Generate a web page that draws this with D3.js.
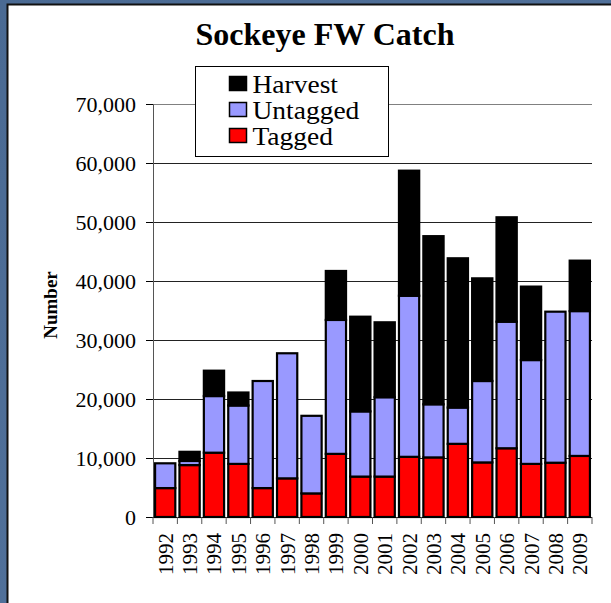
<!DOCTYPE html>
<html>
<head>
<meta charset="utf-8">
<script src="https://cdn.jsdelivr.net/npm/d3@7"></script>
<style>
  html, body { margin: 0; padding: 0; background: #4f7099; }
  svg { display: block; }
  text { font-family: "Liberation Serif", "Times New Roman", serif; fill: #000; }
</style>
</head>
<body>
<script>
var width = 611,
    height = 603;

// data
var years = ["1992", "1993", "1994", "1995", "1996", "1997", "1998", "1999", "2000",
             "2001", "2002", "2003", "2004", "2005", "2006", "2007", "2008", "2009"];
var tagged   = [4900, 8800, 10900, 9000, 4900, 6550, 4000, 10700, 6850,
                6850, 10200, 10100, 12400, 9250, 11650, 9000, 9200, 10350];
var untagged = [4200, 700, 9600, 9900, 18150, 21200, 13150, 22700, 11050,
                13450, 27300, 9000, 6150, 13800, 21450, 17600, 25600, 24550];
var harvest  = [0, 1550, 4300, 2200, 0, 0, 0, 8300, 16050,
                12700, 21200, 28500, 25300, 17400, 17700, 12450, 0, 8550];
var yTicks = [0, 10000, 20000, 30000, 40000, 50000, 60000, 70000];

var seriesNames = ["Tagged", "Untagged", "Harvest"];
var colors = { Tagged: "#ff0000", Untagged: "#9999ff", Harvest: "#000000" };

var margin = { left: 153, right: 19, top: 104, bottom: 86 };

var svg = d3.select("body").append("svg")
    .attr("width", width)
    .attr("height", height);

// background and white panel
var grad = svg.append("defs").append("linearGradient")
    .attr("id", "bg").attr("x1", 0).attr("y1", 0).attr("x2", 1).attr("y2", 1);
grad.append("stop").attr("offset", "0%").attr("stop-color", "#4a6a93");
grad.append("stop").attr("offset", "100%").attr("stop-color", "#5676a0");
svg.append("rect").attr("width", width).attr("height", height).attr("fill", "url(#bg)");
svg.append("rect")
    .attr("x", 7.5).attr("y", 4.5)
    .attr("width", width).attr("height", height)
    .attr("fill", "#fff")
    .attr("stroke", "#111").attr("stroke-width", 2);

var rows = years.map(function (y, i) {
    return { year: y, Tagged: tagged[i], Untagged: untagged[i], Harvest: harvest[i] };
});
var stacked = d3.stack().keys(seriesNames)(rows);

var x = d3.scaleBand()
    .domain(years)
    .range([margin.left, width - margin.right])
    .paddingInner(0.17)
    .paddingOuter(0.085);

var y = d3.scaleLinear()
    .domain([0, 70000])
    .range([height - margin.bottom, margin.top]);

// gridlines
svg.append("g")
    .selectAll("line")
    .data(yTicks.slice(1))
    .enter().append("line")
    .attr("x1", margin.left).attr("x2", width - margin.right)
    .attr("y1", function (d) { return Math.round(y(d)) + 0.5; })
    .attr("y2", function (d) { return Math.round(y(d)) + 0.5; })
    .attr("stroke", function (d) { return d === 70000 ? "#808080" : "#222"; })
    .attr("stroke-width", 1);

// bars
svg.append("g")
    .selectAll("g")
    .data(stacked)
    .enter().append("g")
    .attr("fill", function (d) { return colors[d.key]; })
    .selectAll("rect")
    .data(function (d) { return d.filter(function (p) { return p[1] - p[0] > 0; }); })
    .enter().append("rect")
    .attr("x", function (d) { return x(d.data.year); })
    .attr("y", function (d) { return y(d[1]); })
    .attr("width", x.bandwidth())
    .attr("height", function (d) { return y(d[0]) - y(d[1]); })
    .attr("stroke", "#000")
    .attr("stroke-width", 2.2);

// y axis
var yAxis = svg.append("g")
    .attr("transform", "translate(" + margin.left + ",0)")
    .call(d3.axisLeft(y).tickValues(yTicks).tickSize(7).tickPadding(10)
        .tickFormat(d3.format(",")));
yAxis.select(".domain").attr("stroke", "#555");
yAxis.selectAll(".tick line").attr("stroke", "#000");
yAxis.selectAll("text")
    .style("font-family", "Liberation Serif, serif")
    .style("font-size", "22px");

// x axis
var xAxis = svg.append("g")
    .attr("transform", "translate(0," + (height - margin.bottom) + ")");
xAxis.append("line")
    .attr("x1", margin.left).attr("x2", width - margin.right)
    .attr("y1", 0.5).attr("y2", 0.5)
    .attr("stroke", "#000");
xAxis.selectAll("line.tk")
    .data(d3.range(years.length + 1))
    .enter().append("line")
    .attr("class", "tk")
    .attr("x1", function (i) { return margin.left + i * (width - margin.right - margin.left) / years.length; })
    .attr("x2", function (i) { return margin.left + i * (width - margin.right - margin.left) / years.length; })
    .attr("y1", 0).attr("y2", 7)
    .attr("stroke", "#555");
xAxis.selectAll("text")
    .data(years)
    .enter().append("text")
    .attr("transform", function (d) {
        return "translate(" + (x(d) + x.bandwidth() / 2 + 7.5) + ",16) rotate(-90)";
    })
    .attr("text-anchor", "end")
    .style("font-size", "21px")
    .text(function (d) { return d; });

// title
svg.append("text")
    .attr("x", 325).attr("y", 45)
    .attr("text-anchor", "middle")
    .style("font-size", "32px")
    .style("font-weight", "bold")
    .text("Sockeye FW Catch");

// y label
svg.append("text")
    .attr("transform", "translate(57,305) rotate(-90)")
    .attr("text-anchor", "middle")
    .style("font-size", "19px")
    .style("font-weight", "bold")
    .text("Number");

// legend
var legend = svg.append("g").attr("transform", "translate(195.5,66.5)");
legend.append("rect")
    .attr("width", 193).attr("height", 90)
    .attr("fill", "#fff").attr("stroke", "#000");
var legendItems = ["Harvest", "Untagged", "Tagged"];
var li = legend.selectAll("g.item")
    .data(legendItems)
    .enter().append("g")
    .attr("class", "item")
    .attr("transform", function (d, i) { return "translate(0," + (i * 26) + ")"; });
li.append("rect")
    .attr("x", 34).attr("y", 10)
    .attr("width", 17).attr("height", 14)
    .attr("fill", function (d) { return colors[d]; })
    .attr("stroke", "#000").attr("stroke-width", 1.5);
li.append("text")
    .attr("transform", "translate(57,26) scale(1.1,1)")
    .style("font-size", "25px")
    .text(function (d) { return d; });
</script>
</body>
</html>
